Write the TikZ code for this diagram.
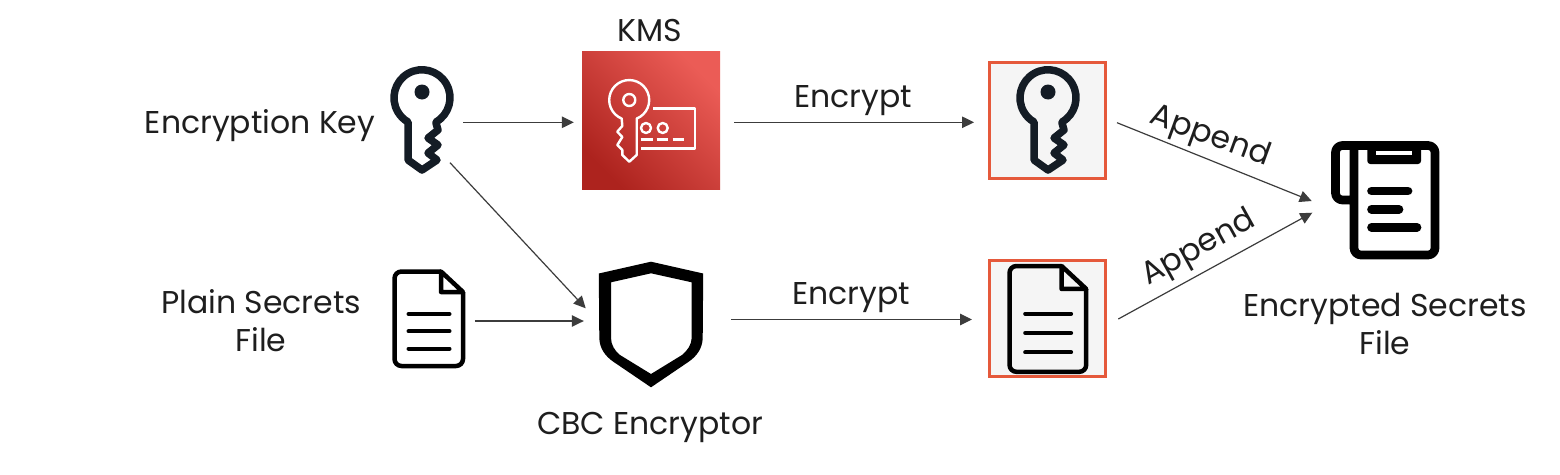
\documentclass[tikz,border=0pt]{standalone}
\usepackage{fontspec}
\setmainfont{Poppins}
\usetikzlibrary{arrows.meta}
\definecolor{inkc}{HTML}{1E1E1E}
\definecolor{keyc}{HTML}{141C25}
\definecolor{linec}{HTML}{3C3C3C}
\definecolor{redbox}{HTML}{E5593B}
\definecolor{greyfill}{HTML}{F5F5F5}
\definecolor{kmslow}{HTML}{AD231E}
\definecolor{kmshigh}{HTML}{EB5C56}
\tikzset{
  x=1pt,y=1pt,
  lbl/.style={font=\fontsize{31.5}{38}\selectfont,text=inkc,inner sep=0pt,align=center},
  flow/.style={draw=linec,line width=1.2pt,-{Triangle[length=12pt,width=11.5pt,fill=linec]}},
  slot/.style={inner sep=0pt,minimum width=#1},
  framebox/.style={draw=redbox,line width=3pt,fill=greyfill,minimum width=116pt,minimum height=115.5pt,inner sep=0pt},
  pics/keyicon/.style={code={
    \draw[keyc,line width=7.5pt,line join=round]
      (14,-24) arc[start angle=-60,end angle=240,radius=28] --
      (-14,-62) -- (0,-72) -- (15,-62) -- (6,-55) -- (16,-47) -- (6,-40) -- (16,-32) -- (14,-25) -- cycle;
    \fill[keyc] (0,6) circle[radius=7.5];
  }},
  pics/docicon/.style={code={
    \draw[black,line width=4.5pt,line join=round,rounded corners=7pt]
      (46.5,0) -- (0,0) -- (0,-94.5) -- (68.5,-94.5) -- (68.5,-20.5);
    \draw[black,line width=4.5pt,line join=round]
      (46.5,0) -- (68.5,-20.5) -- (46.5,-20.5) -- cycle;
    \foreach \yy in {-42.5,-59.8,-77.2}
      \draw[black,line width=4pt,line cap=round] (14,\yy) -- (55,\yy);
  }}
}
\begin{document}
\begin{tikzpicture}
\useasboundingbox (0,0) rectangle (1560,-474);
\fill[white] (0,0) rectangle (1560,-474);

% KMS tile
\node[slot=138pt,minimum height=138pt] (kms) at (651,-120) {};
\shade[shading=axis,bottom color=kmslow,top color=kmshigh,shading angle=-45]
  (582,-51) rectangle (720,-189);
\begin{scope}[white,line width=2.4pt,line join=round]
  \draw (636.7,-118.6) arc[start angle=-68,end angle=248,radius=20]
     -- (622.3,-126) -- (617.3,-131.7) -- (622.3,-137) -- (617.3,-145) -- (622.3,-150)
     -- (622.3,-155) -- (629.3,-161.7) -- (636.7,-155) -- cycle;
  \draw (629.3,-100) circle[radius=6];
  \draw (653.3,-108.3) -- (695,-108.3) -- (695,-148.3) -- (640.7,-148.3);
  \draw (646,-128) circle[radius=5];
  \draw (662.7,-128) circle[radius=5];
  \draw (640.7,-139.3) -- (652.7,-139.3) (656.7,-139.3) -- (668.3,-139.3) (672.7,-139.3) -- (684,-139.3);
\end{scope}
\node[lbl] (kmslabel) at (650,-30) {KMS};

% key
\node[slot=66pt,minimum height=108pt] (keysrc) at (422,-122.3) {};
\pic at (422,-98) {keyicon};
\node[lbl] (keylabel) at (260,-126) {Encryption Key};

% plain doc
\node[slot=72pt,minimum height=100pt] (plain) at (428.6,-321) {};
\pic at (394.5,-271.5) {docicon};
\node[lbl] (plainlabel) at (261,-321) {Plain Secrets\\File};

% shield
\node[slot=104pt,minimum height=126pt] (shield) at (651,-321) {};
\fill[black,even odd rule,line join=round]
  (651,-261.7) -- (598.8,-273.5) -- (599.3,-338) .. controls (599.5,-348) and (605,-356) .. (613.3,-361.7) -- (651,-387.3) -- (688.7,-361.7) .. controls (697,-356) and (702.5,-348) .. (702.7,-338) -- (703.2,-273.5) -- cycle
  (651,-273.3) -- (611,-282.3) -- (611,-338) .. controls (611,-345) and (615,-351) .. (620,-355) -- (651,-374) -- (682,-355) .. controls (687,-351) and (691.5,-345) .. (691.7,-338) -- (691.7,-282.3) -- cycle;
\node[lbl] (cbclabel) at (650,-427) {CBC Encryptor};

% encrypted key
\node[framebox] (enckey) at (1047.5,-120.7) {};
\pic at (1048,-98) {keyicon};
\node[lbl] (enclabela) at (853,-101) {Encrypt};

% encrypted doc
\node[framebox] (encdoc) at (1047.5,-318.5) {};
\pic[scale=1.12] at (1009.5,-266) {docicon};
\node[lbl] (enclabelb) at (851,-298) {Encrypt};

% scroll
\node[slot=108pt,minimum height=118pt] (scroll) at (1385,-200) {};
\draw[black,line width=8.7pt,line join=round,rounded corners=7pt]
  (1354,-200) -- (1335.5,-200) -- (1335.5,-145.5) -- (1435,-145.5) -- (1435,-255) -- (1354,-255) -- (1354,-148);
\fill[black,rounded corners=3pt] (1367.3,-143) rectangle (1421,-164);
\fill[white] (1376,-151) rectangle (1412,-155);
\foreach \yy/\xe in {-191/1408,-209.3/1399,-227.3/1417}
  \draw[black,line width=8.7pt,line cap=round] (1371.5,\yy) -- (\xe,\yy);
\node[lbl] (scrolllabel) at (1385,-324) {Encrypted Secrets\\File};

% connectors
\coordinate (keyout) at (450,-162.7);
\coordinate (shieldin) at (585.7,-308.3);
\coordinate (addin) at (1311.7,-201);
\coordinate (addinb) at (1312.3,-212.7);
\coordinate (keyboxout) at (1117,-122.7);
\coordinate (docboxout) at (1118.3,-319);
\draw[flow,shorten <=8pt,shorten >=8pt] (keysrc.east) -- (keysrc.east -| kms.west);
\draw[flow,shorten <=14pt,shorten >=14pt] (kms.east |- keysrc.east) -- (keysrc.east -| enckey.west);
\draw[flow] (keyout) -- (shieldin);
\draw[flow,shorten <=10pt,shorten >=15pt] (plain.east) -- (shield.west);
\draw[flow,shorten <=28pt,shorten >=16pt] ([yshift=-1pt]shield.east |- encdoc.west) -- ([yshift=-1pt]encdoc.west);
\draw[flow] (keyboxout) -- (addin);
\draw[flow] (docboxout) -- (addinb);
\node[lbl,rotate=-20] (appa) at (1210,-137) {Append};
\node[lbl,rotate=29] (appb) at (1199,-249) {Append};
\end{tikzpicture}
\end{document}
